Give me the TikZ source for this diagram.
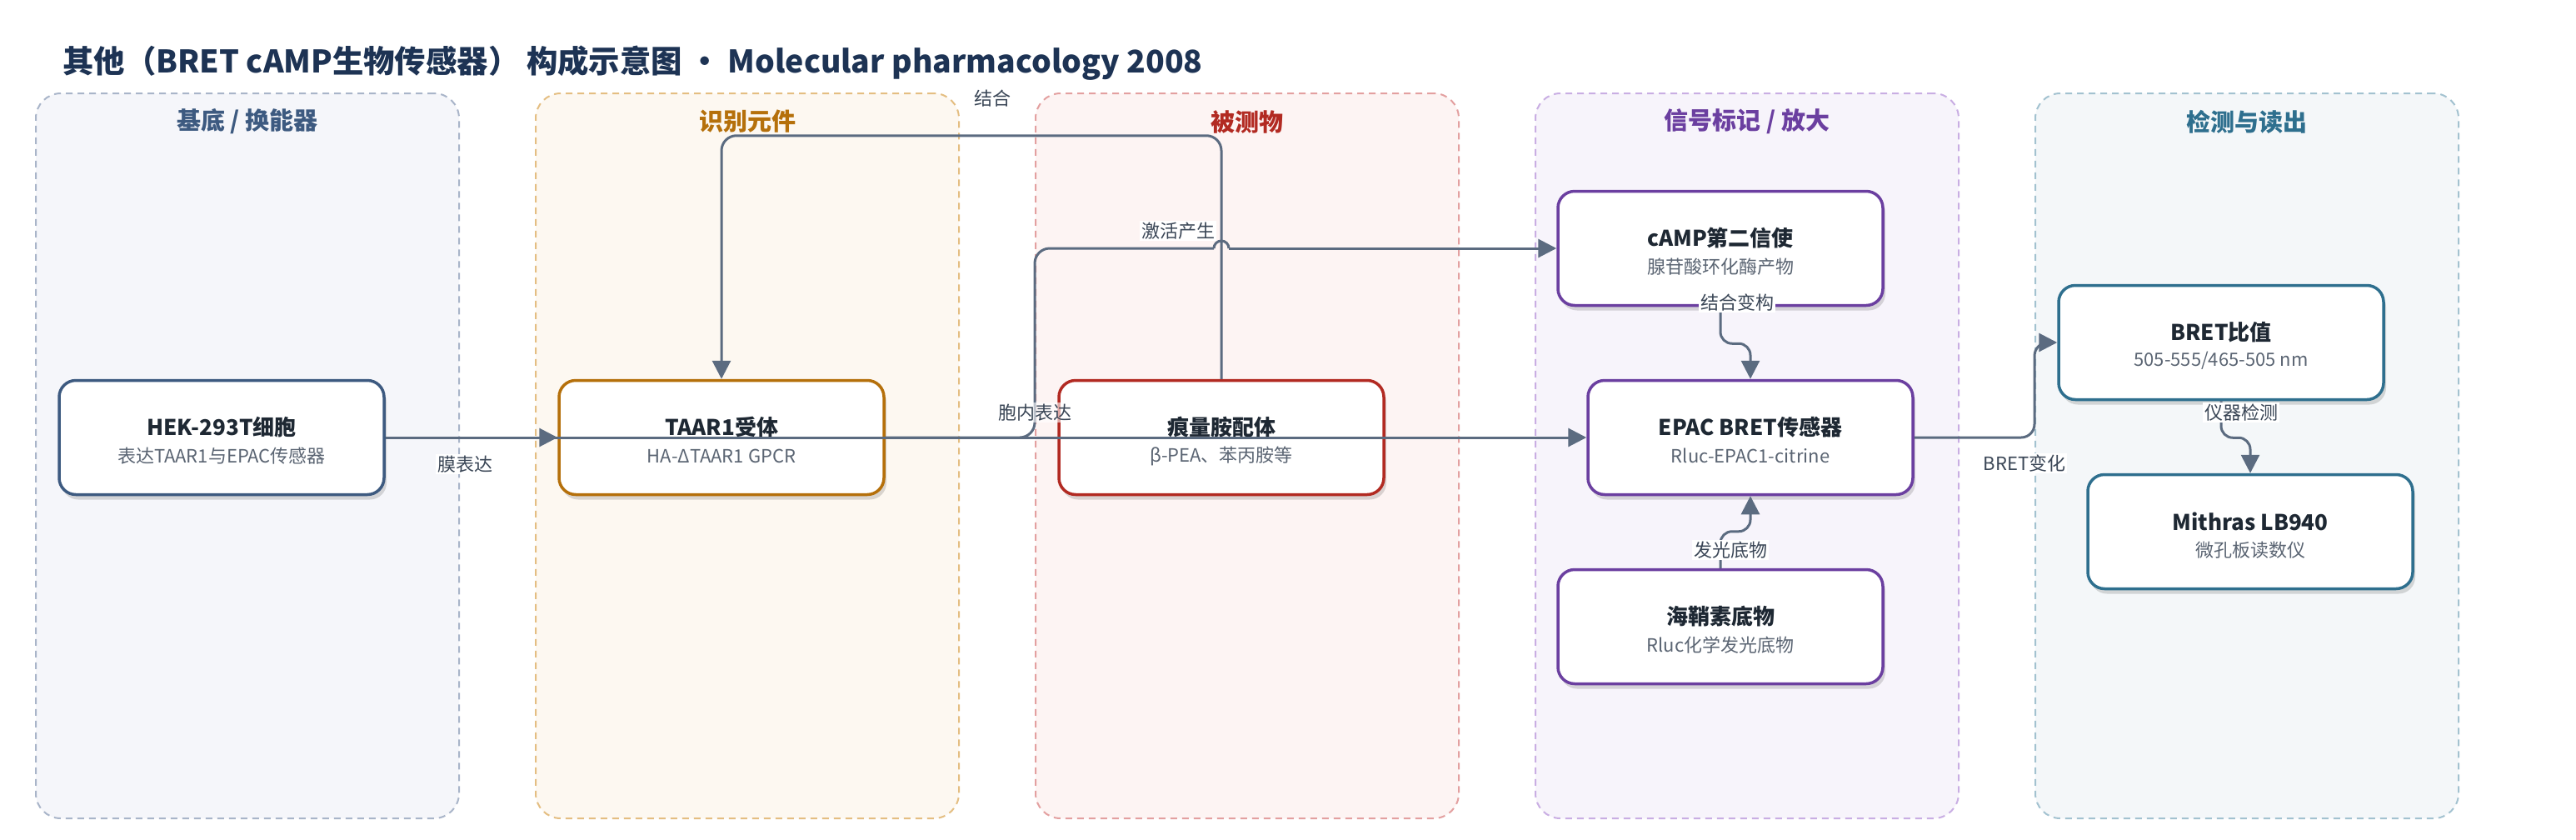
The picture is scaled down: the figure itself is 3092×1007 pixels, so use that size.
\documentclass[tikz,border=0pt]{standalone}
\usepackage{fontspec}
\setmainfont{Noto Sans CJK SC}
\usetikzlibrary{arrows.meta,shadows,calc}
\definecolor{titlec}{HTML}{1D3354}
\definecolor{edgec}{HTML}{5B6B80}
\definecolor{labc}{HTML}{3A4656}
\definecolor{ttlc}{HTML}{1E2833}
\definecolor{subc}{HTML}{5B6573}
\definecolor{ca}{HTML}{3D5A80}\definecolor{fa}{HTML}{F5F6FA}\definecolor{ba}{HTML}{A9B5C9}
\definecolor{cb}{HTML}{B5700B}\definecolor{fb}{HTML}{FDF8F1}\definecolor{bb}{HTML}{E4BE82}
\definecolor{cc}{HTML}{B22A22}\definecolor{fc}{HTML}{FDF4F3}\definecolor{bc}{HTML}{E3A0A0}
\definecolor{cd}{HTML}{6B3FA0}\definecolor{fd}{HTML}{F7F4FB}\definecolor{bd}{HTML}{C9AEE3}
\definecolor{ce}{HTML}{2E6F8E}\definecolor{fe}{HTML}{F4F7F9}\definecolor{be}{HTML}{A3C2D0}
\newcommand\mkbox[6]{%
  \node[box, draw=#4] (#1) at (#2,#3) {};
  \node[ttl] (#1-t) at ($(#1.center)+(0,-12)$) {#5};
  \node[sub] (#1-s) at ($(#1.center)+(0,22)$) {#6};
}
\begin{document}
\begin{tikzpicture}[x=1pt,y=-1pt,
  lanebox/.style={rectangle, rounded corners=30pt, line width=2pt, dash pattern=on 8pt off 6pt, minimum width=508pt, minimum height=870pt, inner sep=0pt},
  lanettl/.style={font=\fontsize{29}{34}\selectfont\bfseries, inner sep=0pt},
  box/.style={rectangle, rounded corners=20pt, fill=white, line width=3.5pt, minimum width=390pt, minimum height=137pt, inner sep=0pt, drop shadow={shadow xshift=3pt, shadow yshift=-6pt, opacity=0.14, fill=black}},
  ttl/.style={font=\fontsize{26}{30}\selectfont\bfseries, text=ttlc, inner sep=0pt},
  sub/.style={font=\fontsize{22}{26}\selectfont, text=subc, inner sep=0pt},
  conn/.style={draw=edgec, line width=3pt, rounded corners=18pt},
  tip/.style={-{Triangle[length=22pt,width=22pt]}},
  elab/.style={font=\fontsize{22}{26}\selectfont, text=labc, fill=white, inner sep=2pt}]
\useasboundingbox (0,0) rectangle (3092,1007);
\fill[white] (0,0) rectangle (3092,1007);
% title
\node[anchor=west, font=\fontsize{37.4}{45}\selectfont\bfseries, text=titlec, inner sep=0pt] (title) at (75,76) {其他（BRET cAMP生物传感器） 构成示意图 · Molecular pharmacology 2008};
% lanes
\node[lanebox, draw=ba, fill=fa] (lane1) at (297,547) {};
\node[lanebox, draw=bb, fill=fb] (lane2) at (897,547) {};
\node[lanebox, draw=bc, fill=fc] (lane3) at (1497,547) {};
\node[lanebox, draw=bd, fill=fd] (lane4) at (2097,547) {};
\node[lanebox, draw=be, fill=fe] (lane5) at (2697,547) {};
\node[lanettl, text=ca] (lane1-t) at (297,146) {基底 / 换能器};
\node[lanettl, text=cb] (lane2-t) at (897,146) {识别元件};
\node[lanettl, text=cc] (lane3-t) at (1497,146) {被测物};
\node[lanettl, text=cd] (lane4-t) at (2097,146) {信号标记 / 放大};
\node[lanettl, text=ce] (lane5-t) at (2697,146) {检测与读出};
% boxes
\mkbox{hek}{266}{525}{ca}{HEK-293T细胞}{表达TAAR1与EPAC传感器}
\mkbox{taar}{866}{525}{cb}{TAAR1受体}{HA-ΔTAAR1 GPCR}
\mkbox{lig}{1466}{525}{cc}{痕量胺配体}{β-PEA、苯丙胺等}
\mkbox{camp}{2065}{298}{cd}{cAMP第二信使}{腺苷酸环化酶产物}
\mkbox{epac}{2101}{525}{cd}{EPAC BRET传感器}{Rluc-EPAC1-citrine}
\mkbox{luc}{2065}{752}{cd}{海鞘素底物}{Rluc化学发光底物}
\mkbox{bret}{2666}{411}{ce}{BRET比值}{505-555/465-505 nm}
\mkbox{mith}{2701}{638}{ce}{Mithras LB940}{微孔板读数仪}
% connectors
\coordinate (bumpL) at (1457,298);
\coordinate (bumpR) at (1475,298);
\draw[conn, tip] (hek.east) -- (taar.west);
\draw[conn, tip] (hek.east) -- (epac.west);
\draw[conn] (taar.east) -- (1242,525) -- (1242,298) -- (bumpL);
\draw[conn] (bumpL) arc[start angle=180, end angle=0, radius=9pt];
\draw[conn, tip] (bumpR) -- (camp.west);
\draw[conn, tip] (lig.north) -- ++(0,-292) -| (taar.north);
\draw[conn, rounded corners=14pt, tip] (camp.south) -- ++(0,44) -| (epac.north);
\draw[conn, rounded corners=14pt, tip] (luc.north) -- ++(0,-44) -| (epac.south);
\draw[conn, rounded corners=16pt, tip] (epac.east) -- (2442,525) |- (bret.west);
\draw[conn, rounded corners=14pt, tip] (bret.south) -- ++(0,44) -| (mith.north);
% edge labels
\node[elab] (l1) at (558,557) {膜表达};
\node[elab, fill opacity=0.6, text opacity=1] (l2) at (1242,495) {胞内表达};
\node[elab] (l3) at (1414,277) {激活产生};
\node[elab] (l4) at (1191,118) {结合};
\node[elab] (l5) at (2085,363) {结合变构};
\node[elab] (l6) at (2077,660) {发光底物};
\node[elab] (l7) at (2430,556) {BRET变化};
\node[elab] (l8) at (2690,495) {仪器检测};
\end{tikzpicture}
\end{document}
